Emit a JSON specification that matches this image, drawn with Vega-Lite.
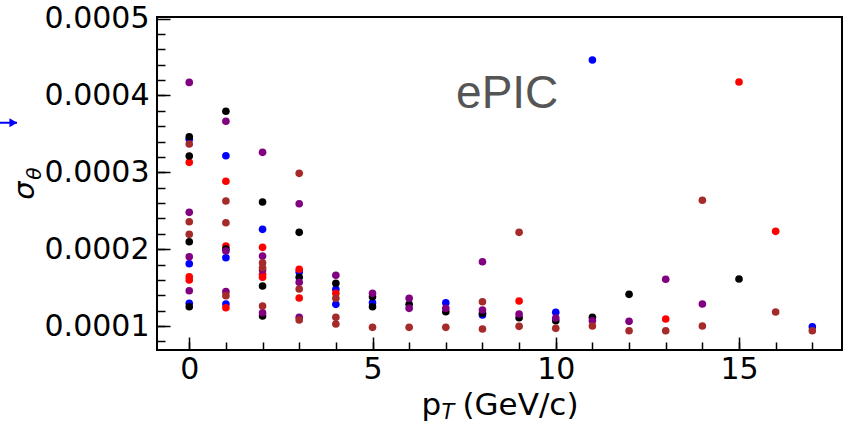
{
  "$schema": "https://vega.github.io/schema/vega-lite/v6.json",
  "width": 685,
  "height": 333,
  "autosize": {"type": "none"},
  "padding": {"left": 157, "top": 17, "right": 6, "bottom": 72},
  "config": {
    "view": {"stroke": "#000000", "strokeWidth": 2},
    "font": "DejaVu Sans"
  },
  "data": {"values": [
    {"pt":0,"s":"A","sigma":0.000343},{"pt":0,"s":"A","sigma":0.0001811},{"pt":0,"s":"A","sigma":0.0001295},
    {"pt":1,"s":"A","sigma":0.0003216},{"pt":1,"s":"A","sigma":0.0001889},{"pt":1,"s":"A","sigma":0.0001286},
    {"pt":2,"s":"A","sigma":0.0002258},{"pt":3,"s":"A","sigma":0.0001703},
    {"pt":4,"s":"A","sigma":0.0001478},{"pt":4,"s":"A","sigma":0.0001282},
    {"pt":5,"s":"A","sigma":0.0001303},{"pt":7,"s":"A","sigma":0.0001303},{"pt":8,"s":"A","sigma":0.0001143},
    {"pt":10,"s":"A","sigma":0.0001178},{"pt":11,"s":"A","sigma":0.0004461},{"pt":17,"s":"A","sigma":0.0000991},

    {"pt":0,"s":"B","sigma":0.000313},{"pt":0,"s":"B","sigma":0.0001642},{"pt":0,"s":"B","sigma":0.0001599},
    {"pt":1,"s":"B","sigma":0.0002883},{"pt":1,"s":"B","sigma":0.0002041},{"pt":1,"s":"B","sigma":0.0001238},
    {"pt":2,"s":"B","sigma":0.0002024},{"pt":2,"s":"B","sigma":0.0001673},{"pt":2,"s":"B","sigma":0.0001634},
    {"pt":3,"s":"B","sigma":0.0001738},{"pt":3,"s":"B","sigma":0.0001364},
    {"pt":4,"s":"B","sigma":0.0001425},{"pt":9,"s":"B","sigma":0.0001325},{"pt":13,"s":"B","sigma":0.0001091},
    {"pt":15,"s":"B","sigma":0.0004175},{"pt":16,"s":"B","sigma":0.0002232},

    {"pt":0,"s":"C","sigma":0.0003463},{"pt":0,"s":"C","sigma":0.0003212},{"pt":0,"s":"C","sigma":0.0002097},{"pt":0,"s":"C","sigma":0.0001251},
    {"pt":1,"s":"C","sigma":0.0003794},{"pt":1,"s":"C","sigma":0.0002},
    {"pt":2,"s":"C","sigma":0.0002614},{"pt":2,"s":"C","sigma":0.000152},{"pt":2,"s":"C","sigma":0.000113},
    {"pt":3,"s":"C","sigma":0.0002219},{"pt":3,"s":"C","sigma":0.0001634},
    {"pt":4,"s":"C","sigma":0.0001556},{"pt":5,"s":"C","sigma":0.0001381},{"pt":5,"s":"C","sigma":0.0001251},
    {"pt":6,"s":"C","sigma":0.0001282},{"pt":7,"s":"C","sigma":0.0001186},{"pt":8,"s":"C","sigma":0.0001165},
    {"pt":9,"s":"C","sigma":0.0001108},{"pt":10,"s":"C","sigma":0.0001069},{"pt":11,"s":"C","sigma":0.0001113},
    {"pt":12,"s":"C","sigma":0.0001412},{"pt":15,"s":"C","sigma":0.0001612},

    {"pt":0,"s":"D","sigma":0.000417},{"pt":0,"s":"D","sigma":0.0002479},{"pt":0,"s":"D","sigma":0.0001902},{"pt":0,"s":"D","sigma":0.0001459},
    {"pt":1,"s":"D","sigma":0.0003664},{"pt":1,"s":"D","sigma":0.0001976},{"pt":1,"s":"D","sigma":0.0001447},
    {"pt":2,"s":"D","sigma":0.000326},{"pt":2,"s":"D","sigma":0.0001911},{"pt":2,"s":"D","sigma":0.0001729},{"pt":2,"s":"D","sigma":0.0001173},
    {"pt":3,"s":"D","sigma":0.0002591},{"pt":3,"s":"D","sigma":0.0001569},{"pt":3,"s":"D","sigma":0.0001113},
    {"pt":4,"s":"D","sigma":0.000166},{"pt":5,"s":"D","sigma":0.0001425},
    {"pt":6,"s":"D","sigma":0.000136},{"pt":6,"s":"D","sigma":0.000123},{"pt":7,"s":"D","sigma":0.000123},
    {"pt":8,"s":"D","sigma":0.0001837},{"pt":8,"s":"D","sigma":0.0001208},{"pt":9,"s":"D","sigma":0.0001156},
    {"pt":10,"s":"D","sigma":0.0001104},{"pt":11,"s":"D","sigma":0.0001069},{"pt":12,"s":"D","sigma":0.0001061},
    {"pt":13,"s":"D","sigma":0.0001608},{"pt":14,"s":"D","sigma":0.0001286},

    {"pt":0,"s":"E","sigma":0.0003368},{"pt":0,"s":"E","sigma":0.0002357},{"pt":0,"s":"E","sigma":0.0002193},
    {"pt":1,"s":"E","sigma":0.0002627},{"pt":1,"s":"E","sigma":0.0002344},{"pt":1,"s":"E","sigma":0.0001395},
    {"pt":2,"s":"E","sigma":0.0001824},{"pt":2,"s":"E","sigma":0.0001759},{"pt":2,"s":"E","sigma":0.000126},
    {"pt":3,"s":"E","sigma":0.0002987},{"pt":3,"s":"E","sigma":0.0001481},{"pt":3,"s":"E","sigma":0.0001078},
    {"pt":4,"s":"E","sigma":0.000136},{"pt":4,"s":"E","sigma":0.0001113},{"pt":4,"s":"E","sigma":0.0001026},
    {"pt":5,"s":"E","sigma":0.0000983},{"pt":6,"s":"E","sigma":0.0000983},{"pt":7,"s":"E","sigma":0.0000983},
    {"pt":8,"s":"E","sigma":0.0001316},{"pt":8,"s":"E","sigma":0.0000961},
    {"pt":9,"s":"E","sigma":0.0002219},{"pt":9,"s":"E","sigma":0.0000996},
    {"pt":10,"s":"E","sigma":0.000097},{"pt":11,"s":"E","sigma":0.0001},{"pt":12,"s":"E","sigma":0.0000939},
    {"pt":13,"s":"E","sigma":0.0000939},{"pt":14,"s":"E","sigma":0.0002636},{"pt":14,"s":"E","sigma":0.0001},
    {"pt":16,"s":"E","sigma":0.0001182},{"pt":17,"s":"E","sigma":0.0000939}
  ]},
  "layer": [
    {
      "mark": {"type": "point", "filled": true, "opacity": 1, "size": 58, "shape": "circle"},
      "encoding": {
        "x": {"field": "pt", "type": "quantitative",
          "scale": {"domain": [-0.88, 17.81], "nice": false, "zero": false},
          "axis": {"orient": "bottom", "values": [0, 5, 10, 15], "tickSize": 13, "tickWidth": 1.5, "tickColor": "#000000",
            "offset": -13, "domain": false, "grid": false, "labelFontSize": 30, "labelColor": "#000000", "labelPadding": 4, "labelFlush": false,
            "title": "p", "titleFontSize": 31, "titleFontWeight": "normal", "titleColor": "#000000",
            "titleX": 264, "titleY": 77, "titleAlign": "left", "titleBaseline": "alphabetic", "titleAngle": 0}},
        "y": {"field": "sigma", "type": "quantitative",
          "scale": {"domain": [0.0000688, 0.0005021], "nice": false, "zero": false},
          "axis": {"orient": "left", "values": [0.0001, 0.0002, 0.0003, 0.0004, 0.0005], "format": ".4f", "tickSize": 13, "tickWidth": 1.5, "tickColor": "#000000",
            "offset": -13, "domain": false, "grid": false, "labelFontSize": 30, "labelColor": "#000000", "labelPadding": 8, "labelFlush": false,
            "title": "σ", "titleFontSize": 29, "titleFontWeight": "normal", "titleFontStyle": "italic", "titleColor": "#000000",
            "titleX": -137, "titleY": 173, "titleAlign": "center", "titleBaseline": "alphabetic", "titleAngle": -90}},
        "color": {"field": "s", "type": "nominal",
          "scale": {"domain": ["A", "B", "C", "D", "E"], "range": ["#0000ff", "#ff0000", "#000000", "#800080", "#a52a2a"]},
          "legend": null}
      }
    },
    {
      "mark": {"type": "point", "filled": true, "opacity": 0, "size": 1},
      "encoding": {
        "x": {"field": "pt", "type": "quantitative",
          "scale": {"domain": [-0.88, 17.81], "nice": false, "zero": false},
          "axis": {"orient": "bottom", "values": [0,1,2,3,4,5,6,7,8,9,10,11,12,13,14,15,16,17], "tickSize": 8, "tickWidth": 1.5, "tickColor": "#000000",
            "offset": -8, "domain": false, "grid": false, "labels": false,
            "title": "(GeV/c)", "titleFontSize": 31, "titleFontWeight": "normal", "titleColor": "#000000",
            "titleX": 305, "titleY": 72, "titleAlign": "left", "titleBaseline": "alphabetic", "titleAngle": 0}},
        "y": {"field": "sigma", "type": "quantitative",
          "scale": {"domain": [0.0000688, 0.0005021], "nice": false, "zero": false},
          "axis": {"orient": "left", "values": [0.00008, 0.0001, 0.00012, 0.00014, 0.00016, 0.00018, 0.0002, 0.00022, 0.00024, 0.00026, 0.00028, 0.0003, 0.00032, 0.00034, 0.00036, 0.00038, 0.0004, 0.00042, 0.00044, 0.00046, 0.00048],
            "tickSize": 8, "tickWidth": 1.5, "tickColor": "#000000",
            "offset": -8, "domain": false, "grid": false, "labels": false,
            "title": "θ", "titleFontSize": 20, "titleFontWeight": "normal", "titleFontStyle": "italic", "titleColor": "#000000",
            "titleX": -125, "titleY": 156, "titleAlign": "center", "titleBaseline": "alphabetic", "titleAngle": -90}}
      }
    },
    {
      "data": {"values": [{"pt": 7.28, "sigma": 0.0003837, "label": "ePIC"}]},
      "mark": {"type": "text", "font": "Liberation Sans", "fontSize": 46, "color": "#555555", "align": "left", "baseline": "alphabetic"},
      "encoding": {
        "x": {"field": "pt", "type": "quantitative",
          "scale": {"domain": [-0.88, 17.81], "nice": false, "zero": false},
          "axis": {"orient": "bottom", "ticks": false, "labels": false, "domain": false, "grid": false,
            "title": "T", "titleFontSize": 21, "titleFontWeight": "normal", "titleFontStyle": "italic", "titleColor": "#000000",
            "titleX": 284, "titleY": 68, "titleAlign": "left", "titleBaseline": "alphabetic", "titleAngle": 0}},
        "y": {"field": "sigma", "type": "quantitative",
          "scale": {"domain": [0.0000688, 0.0005021], "nice": false, "zero": false}, "axis": null},
        "text": {"field": "label"}
      }
    },
    {
      "data": {"values": [{"pt": -5.6, "pt2": -4.7, "sigma": 0.0003645}]},
      "mark": {"type": "rule", "color": "#0000ff", "strokeWidth": 2},
      "encoding": {
        "x": {"field": "pt", "type": "quantitative", "scale": {"domain": [-0.88, 17.81], "nice": false, "zero": false}, "axis": null},
        "x2": {"field": "pt2"},
        "y": {"field": "sigma", "type": "quantitative", "scale": {"domain": [0.0000688, 0.0005021], "nice": false, "zero": false}, "axis": null}
      }
    },
    {
      "data": {"values": [{"pt": -4.8, "sigma": 0.0003645}]},
      "mark": {"type": "point", "shape": "triangle-right", "filled": true, "opacity": 1, "color": "#0000ff", "size": 80},
      "encoding": {
        "x": {"field": "pt", "type": "quantitative", "scale": {"domain": [-0.88, 17.81], "nice": false, "zero": false}, "axis": null},
        "y": {"field": "sigma", "type": "quantitative", "scale": {"domain": [0.0000688, 0.0005021], "nice": false, "zero": false}, "axis": null}
      }
    }
  ],
  "resolve": {"axis": {"x": "independent", "y": "independent"}}
}
